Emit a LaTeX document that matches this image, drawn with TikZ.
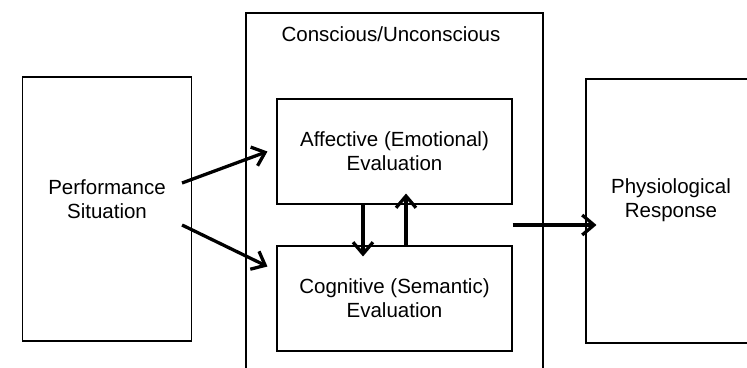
\documentclass[tikz,border=0pt]{standalone}
\usepackage{fontspec}
\setmainfont{Liberation Sans}
\usepackage{tikz}
\usetikzlibrary{arrows.meta,positioning,calc}

\begin{document}
\begin{tikzpicture}[x=0.03cm, y=-0.03cm,
    font=\fontsize{17.5pt}{20.4pt}\selectfont,
    sidebox/.style={draw, line width=0.9pt, minimum width=5.07cm, minimum height=7.92cm},
    evalbox/.style={draw, line width=0.9pt, align=center, minimum width=7.05cm, minimum height=3.15cm},
    flow/.style={-{Straight Barb[length=10pt, width=17pt, line width=2.8pt]}, line width=2.8pt}]
  \useasboundingbox (0,0) rectangle (747,368);
  \clip (0,0) rectangle (747,368);

  % Outer boxes
  \node[sidebox] (perf) at (107,209) {};
  \node[align=center] (perftxt) at ([yshift=8.5pt]perf.center) {Performance\\Situation};
  \node[sidebox, minimum width=5.1cm] (phys) at (671,211) {};
  \node[align=center] (phystxt) at ([yshift=9.5pt]phys.center) {Physiological\\Response};

  % Conscious/Unconscious frame
  \node[draw, line width=1.8pt, minimum width=8.91cm, minimum height=11.01cm] (mind) at (394.5,196.5) {};
  \node[anchor=base] (mindtxt) at (391,42) {Conscious/Unconscious};

  % Evaluations
  \node[evalbox] (aff) at (394.5,151.5) {Affective (Emotional)\\Evaluation};
  \node[evalbox] (cog) at (394.5,298.5) {Cognitive (Semantic)\\Evaluation};

  % Arrows
  \draw[flow] ($(perf.east)+(-10,-26)$) -- ($(aff.west)+(-9,0)$);
  \draw[flow] ($(perf.east)+(-10,16)$) -- ($(cog.west)+(-9,-32)$);
  \draw[flow] ($(aff.south)+(-31.5,0)$) -- ($(cog.north)+(-31.5,11)$);
  \draw[flow] ($(cog.north)+(11.5,0)$) -- ($(aff.south)+(11.5,-11)$);
  \coordinate (out) at ($(aff.east)!0.5!(cog.east)$);
  \draw[flow] (out) -- ($(phys.west |- out)+(11,0)$);
\end{tikzpicture}
\end{document}
